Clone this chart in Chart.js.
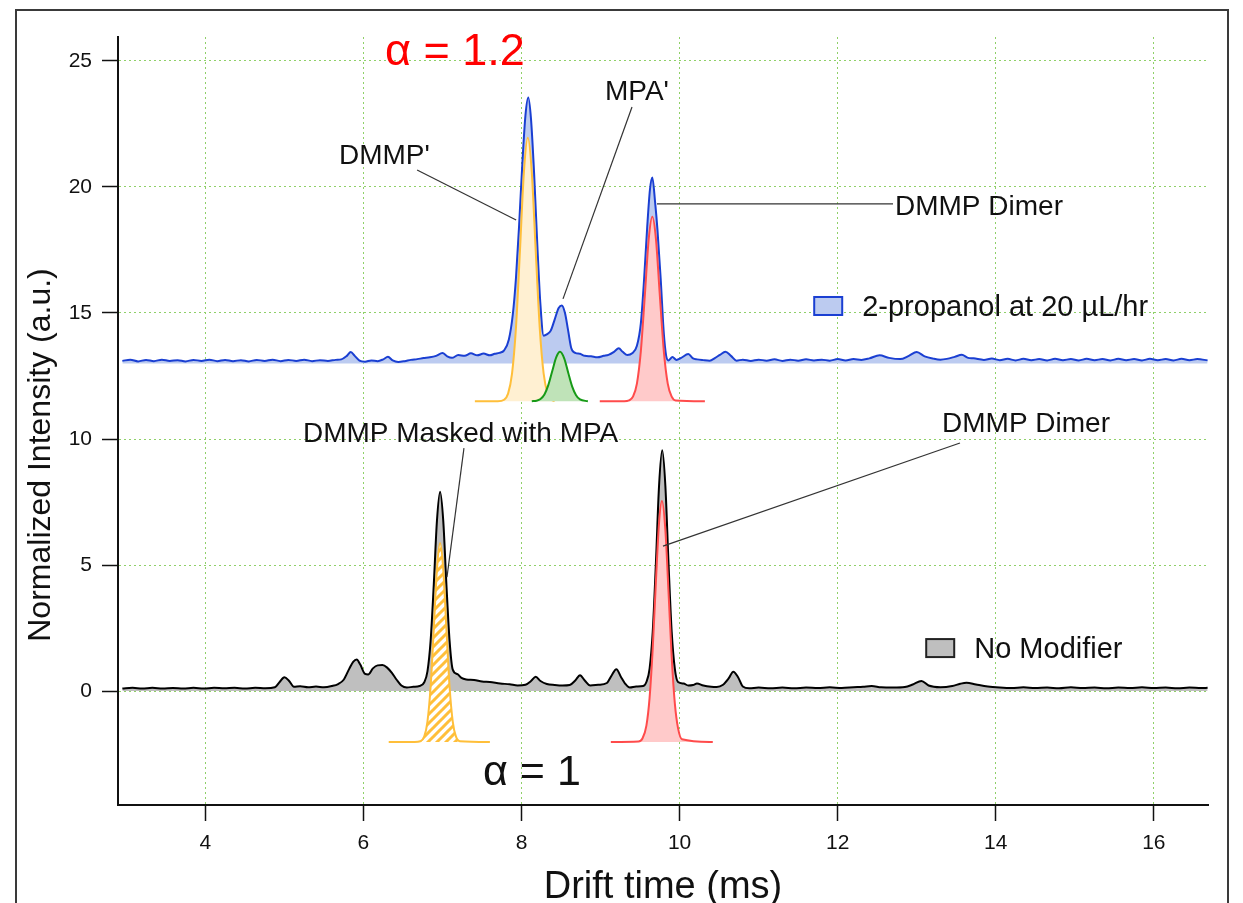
<!DOCTYPE html>
<html>
<head>
<meta charset="utf-8">
<title>Drift time spectra</title>
<script src="https://cdn.jsdelivr.net/npm/chart.js@4.4.1/dist/chart.umd.min.js"></script>
<style>
  html, body { margin: 0; padding: 0; background: #fff; }
  #wrap { width: 1243px; height: 903px; position: relative; overflow: hidden; }
</style>
</head>
<body>
<div id="wrap"><canvas id="drift" width="1243" height="903"></canvas></div>
<script>
// ---- data (drift time in ms, normalized intensity in a.u.) ----
const xTickValues = [4, 6, 8, 10, 12, 14, 16];
const yTickValues = [0, 5, 10, 15, 20, 25];

// 2-propanol at 20 µL/hr (offset trace)
const propanolTrace = [
  [2.95,13.10],[3.05,13.15],[3.15,13.08],[3.25,13.14],[3.35,13.09],[3.45,13.15],[3.55,13.10],[3.65,13.13],
  [3.75,13.08],[3.85,13.14],[3.95,13.10],[4.05,13.15],[4.15,13.09],[4.25,13.14],[4.35,13.09],[4.45,13.13],
  [4.55,13.08],[4.65,13.14],[4.75,13.10],[4.85,13.15],[4.95,13.09],[5.05,13.14],[5.15,13.10],[5.25,13.15],
  [5.35,13.09],[5.45,13.13],[5.55,13.10],[5.65,13.14],[5.72,13.16],[5.79,13.30],[5.84,13.45],[5.89,13.30],
  [5.95,13.11],[6.02,13.07],[6.10,13.12],[6.18,13.09],[6.25,13.16],[6.31,13.26],[6.37,13.12],[6.44,13.06],
  [6.52,13.09],[6.60,13.14],[6.68,13.17],[6.76,13.21],[6.84,13.24],[6.92,13.30],[7.00,13.41],[7.06,13.28],
  [7.12,13.22],[7.20,13.33],[7.28,13.30],[7.36,13.40],[7.44,13.32],[7.52,13.39],[7.60,13.32],[7.66,13.38],
  [7.72,13.42],[7.78,13.52],[7.84,13.95],[7.89,14.95],[7.93,16.40],[7.97,18.50],[8.01,20.90],[8.05,22.85],
  [8.086,23.55],[8.12,22.70],[8.16,20.50],[8.20,17.70],[8.24,15.30],[8.28,14.10],[8.32,14.15],[8.37,14.30],
  [8.42,14.75],[8.47,15.20],[8.51,15.30],[8.55,15.00],[8.59,14.30],[8.63,13.60],[8.68,13.42],[8.74,13.38],
  [8.80,13.30],[8.88,13.28],[8.96,13.24],[9.04,13.30],[9.10,13.34],[9.17,13.46],[9.23,13.60],[9.28,13.46],
  [9.34,13.33],[9.40,13.40],[9.46,13.70],[9.51,14.60],[9.55,16.30],[9.59,18.40],[9.625,19.90],[9.655,20.38],
  [9.69,19.40],[9.72,18.30],[9.76,16.40],[9.80,14.20],[9.83,13.30],[9.86,13.12],[9.91,13.25],[9.96,13.14],
  [10.02,13.22],[10.11,13.37],[10.17,13.20],[10.22,13.16],[10.30,13.13],[10.38,13.11],[10.45,13.22],[10.51,13.34],
  [10.58,13.46],[10.65,13.30],[10.72,13.11],[10.80,13.15],[10.90,13.10],[11.00,13.15],[11.10,13.11],[11.20,13.16],
  [11.30,13.10],[11.40,13.15],[11.50,13.11],[11.60,13.16],[11.70,13.12],[11.80,13.15],[11.90,13.11],[12.00,13.17],
  [12.10,13.12],[12.20,13.17],[12.30,13.14],[12.40,13.20],[12.53,13.32],[12.65,13.22],[12.79,13.17],[12.90,13.30],
  [13.00,13.45],[13.10,13.28],[13.21,13.19],[13.30,13.15],[13.38,13.18],[13.48,13.26],[13.57,13.34],[13.65,13.22],
  [13.72,13.20],[13.85,13.14],[13.95,13.19],[14.05,13.13],[14.15,13.18],[14.25,13.12],[14.35,13.18],[14.45,13.13],
  [14.55,13.17],[14.65,13.12],[14.75,13.18],[14.85,13.13],[14.95,13.17],[15.05,13.12],[15.15,13.18],[15.25,13.13],
  [15.35,13.17],[15.45,13.12],[15.55,13.18],[15.65,13.13],[15.75,13.17],[15.85,13.12],[15.95,13.18],[16.05,13.13],
  [16.15,13.17],[16.25,13.12],[16.35,13.18],[16.45,13.13],[16.55,13.17],[16.68,13.12]
];
const propanolFloor = 13.0;

// No Modifier
const noModifierTrace = [
  [2.95,0.10],[3.08,0.13],[3.20,0.10],[3.33,0.13],[3.46,0.10],[3.59,0.12],[3.72,0.10],[3.85,0.13],
  [3.98,0.10],[4.11,0.13],[4.24,0.11],[4.37,0.13],[4.50,0.10],[4.63,0.13],[4.76,0.11],[4.88,0.15],
  [4.94,0.36],[5.00,0.55],[5.06,0.40],[5.12,0.17],[5.20,0.19],[5.30,0.15],[5.40,0.18],[5.50,0.15],
  [5.60,0.20],[5.68,0.28],[5.75,0.45],[5.82,0.88],[5.87,1.16],[5.915,1.25],[5.96,1.05],[6.02,0.68],
  [6.06,0.66],[6.12,0.90],[6.18,1.02],[6.24,1.03],[6.30,0.93],[6.36,0.72],[6.42,0.45],[6.48,0.22],
  [6.55,0.14],[6.63,0.17],[6.71,0.20],[6.77,0.35],[6.81,0.78],[6.85,1.99],[6.89,4.22],[6.93,6.75],
  [6.97,7.91],[7.01,6.75],[7.05,4.22],[7.09,1.99],[7.13,0.85],[7.19,0.67],[7.24,0.52],[7.30,0.46],
  [7.40,0.44],[7.50,0.38],[7.60,0.36],[7.73,0.30],[7.85,0.27],[7.95,0.22],[8.05,0.25],[8.12,0.40],
  [8.18,0.57],[8.24,0.40],[8.32,0.28],[8.42,0.24],[8.52,0.22],[8.61,0.24],[8.68,0.42],[8.74,0.63],
  [8.80,0.42],[8.87,0.22],[8.97,0.25],[9.08,0.32],[9.14,0.62],[9.20,0.87],[9.26,0.55],[9.31,0.30],
  [9.37,0.14],[9.45,0.18],[9.54,0.20],[9.58,0.36],[9.62,0.88],[9.66,2.35],[9.70,5.06],[9.74,8.14],
  [9.78,9.55],[9.82,8.14],[9.86,5.06],[9.90,2.35],[9.94,0.88],[9.98,0.36],[10.05,0.30],[10.11,0.22],
  [10.17,0.24],[10.22,0.30],[10.30,0.22],[10.40,0.17],[10.47,0.16],[10.55,0.25],[10.62,0.50],[10.68,0.77],
  [10.74,0.55],[10.80,0.18],[10.88,0.11],[11.00,0.14],[11.15,0.11],[11.30,0.14],[11.45,0.11],[11.60,0.14],
  [11.75,0.12],[11.90,0.15],[12.05,0.12],[12.20,0.15],[12.32,0.17],[12.43,0.20],[12.55,0.15],[12.70,0.14],
  [12.85,0.16],[12.95,0.26],[13.06,0.40],[13.15,0.22],[13.30,0.15],[13.45,0.20],[13.55,0.29],[13.63,0.33],
  [13.75,0.26],[13.90,0.18],[14.05,0.14],[14.20,0.12],[14.35,0.15],[14.50,0.12],[14.65,0.14],[14.80,0.11],
  [14.95,0.15],[15.10,0.12],[15.25,0.14],[15.40,0.11],[15.55,0.14],[15.70,0.12],[15.85,0.15],[16.00,0.12],
  [16.15,0.14],[16.30,0.11],[16.45,0.14],[16.60,0.12],[16.68,0.13]
];
const noModifierFloor = 0;

// fitted peaks, alpha = 1.2 (upper)
const dmmpPrimeFit = [
  [7.41,11.5],[7.70,11.5],[7.78,11.56],[7.83,11.80],[7.88,12.59],[7.93,14.43],[7.98,17.44],[8.03,20.57],
  [8.08,21.95],[8.13,20.57],[8.18,17.44],[8.23,14.43],[8.28,12.59],[8.33,11.80],[8.38,11.56],[8.42,11.5]
];
const mpaPrimeFit = [
  [8.13,11.5],[8.19,11.52],[8.24,11.59],[8.29,11.77],[8.34,12.15],[8.39,12.71],[8.44,13.25],[8.487,13.46],
  [8.54,13.20],[8.59,12.64],[8.64,12.09],[8.69,11.74],[8.74,11.57],[8.84,11.5]
];
const dimerUpperFit = [
  [8.99,11.5],[9.30,11.5],[9.36,11.53],[9.41,11.68],[9.46,12.20],[9.51,13.50],[9.56,15.69],[9.61,17.96],
  [9.655,18.82],[9.70,17.96],[9.75,15.69],[9.80,13.50],[9.85,12.20],[9.90,11.68],[9.95,11.53],[10.32,11.5]
];

// fitted peaks, alpha = 1 (lower)
const dmmpMaskedFit = [
  [6.32,-2.02],[6.65,-2.02],[6.72,-1.99],[6.77,-1.80],[6.81,-1.21],[6.85,0.17],[6.89,2.45],[6.93,4.82],
  [6.97,5.87],[7.01,4.82],[7.05,2.45],[7.09,0.17],[7.13,-1.21],[7.17,-1.80],[7.22,-1.99],[7.60,-2.02]
];
const dimerLowerFit = [
  [9.13,-2.02],[9.48,-2.00],[9.53,-1.88],[9.58,-1.37],[9.62,-0.28],[9.66,1.69],[9.70,4.33],[9.74,6.68],
  [9.777,7.54],[9.82,6.39],[9.86,3.92],[9.90,1.34],[9.94,-0.50],[9.98,-1.47],[10.03,-1.91],[10.42,-2.02]
];

// ---- look ----
const FONT = '"Liberation Sans", Arial, Helvetica, sans-serif';
const INK = '#111';
const BLUE = '#1a3fd2';
const BLUE_FILL = '#bccbf0';
const GRAY_FILL = '#bfbfbf';
const YELLOW = '#ffbf3a';
const YELLOW_FILL = '#fff0d2';
const GREEN = '#179a17';
const GREEN_FILL = '#bfe3b8';
const RED = '#ff4b4b';
const RED_FILL = '#ffcaca';
const GRID = '#8fd068';

const toXY = (pairs) => pairs.map(([x, y]) => ({ x, y }));

function hatchPattern() {
  const s = 9;
  const c = document.createElement('canvas');
  c.width = s; c.height = s;
  const g = c.getContext('2d');
  g.fillStyle = '#fff';
  g.fillRect(0, 0, s, s);
  g.strokeStyle = YELLOW;
  g.lineWidth = 3;
  g.beginPath();
  g.moveTo(-1, s + 1); g.lineTo(s + 1, -1);
  g.moveTo(-1, 1); g.lineTo(1, -1);
  g.moveTo(s - 1, s + 1); g.lineTo(s + 1, s - 1);
  g.stroke();
  return g.createPattern(c, 'repeat');
}

function trace(pairs, color, fill, floor, order) {
  return {
    data: toXY(pairs), borderColor: color, backgroundColor: fill, borderWidth: 2,
    fill: { value: floor }, order
  };
}

const datasets = [
  trace(propanolTrace, BLUE, BLUE_FILL, propanolFloor, 3),
  trace(noModifierTrace, '#000', GRAY_FILL, noModifierFloor, 3),
  trace(dmmpPrimeFit, YELLOW, YELLOW_FILL, dmmpPrimeFit[0][1], 2),
  trace(mpaPrimeFit, GREEN, GREEN_FILL, mpaPrimeFit[0][1], 1),
  trace(dimerUpperFit, RED, RED_FILL, dimerUpperFit[0][1], 2),
  trace(dmmpMaskedFit, YELLOW, hatchPattern(), dmmpMaskedFit[0][1], 2),
  trace(dimerLowerFit, RED, RED_FILL, dimerLowerFit[0][1], 2)
];

// annotation anchors in data units (ms, a.u.)
const labels = [
  { text: "DMMP'", x: 5.69, y: 20.91 },
  { text: "MPA'", x: 9.056, y: 23.45 },
  { text: 'DMMP Dimer', x: 12.725, y: 18.89 },
  { text: 'DMMP Masked with MPA', x: 5.235, y: 9.88 },
  { text: 'DMMP Dimer', x: 13.32, y: 10.28 }
];
const leaders = [
  [6.679, 20.67, 7.932, 18.69],
  [9.398, 23.17, 8.525, 15.56],
  [9.714, 19.33, 12.70, 19.33],
  [7.272, 9.64, 7.057, 4.52],
  [13.547, 9.84, 9.79, 5.75]
];
const alphaNotes = [
  { text: 'α = 1.2', x: 6.273, y: 24.84, color: '#ff0000', size: 45 },
  { text: 'α = 1', x: 7.513, y: -3.73, color: INK, size: 43 }
];
const legendItems = [
  { text: '2-propanol at 20 µL/hr', x: 11.703, y: 15.635, fill: BLUE_FILL, stroke: BLUE },
  { text: 'No Modifier', x: 13.12, y: 2.063, fill: GRAY_FILL, stroke: '#222' }
];

const decor = {
  id: 'decor',
  beforeDraw(chart) {
    const ctx = chart.ctx;
    ctx.save();
    ctx.strokeStyle = '#3a3a3a';
    ctx.lineWidth = 2;
    ctx.strokeRect(16, 10, 1212, 1000);
    ctx.restore();
  },
  afterDatasetsDraw(chart) {
    const ctx = chart.ctx;
    const sx = chart.scales.x, sy = chart.scales.y;
    const X = (v) => sx.getPixelForValue(v);
    const Y = (v) => sy.getPixelForValue(v);
    ctx.save();

    ctx.strokeStyle = '#333';
    ctx.lineWidth = 1.2;
    leaders.forEach(([x1, y1, x2, y2]) => {
      ctx.beginPath();
      ctx.moveTo(X(x1), Y(y1));
      ctx.lineTo(X(x2), Y(y2));
      ctx.stroke();
    });

    ctx.fillStyle = INK;
    ctx.textAlign = 'left';
    ctx.textBaseline = 'alphabetic';
    ctx.font = `28px ${FONT}`;
    labels.forEach((l) => ctx.fillText(l.text, X(l.x), Y(l.y)));

    alphaNotes.forEach((a) => {
      ctx.fillStyle = a.color;
      ctx.font = `${a.size}px ${FONT}`;
      ctx.fillText(a.text, X(a.x), Y(a.y));
    });

    ctx.font = `29px ${FONT}`;
    legendItems.forEach((it) => {
      const bx = X(it.x), by = Y(it.y);
      ctx.fillStyle = it.fill;
      ctx.fillRect(bx, by, 28, 18);
      ctx.strokeStyle = it.stroke;
      ctx.lineWidth = 2;
      ctx.strokeRect(bx, by, 28, 18);
      ctx.fillStyle = INK;
      ctx.fillText(it.text, bx + 48, by + 19);
    });

    // axis titles
    ctx.fillStyle = INK;
    ctx.font = `38px ${FONT}`;
    ctx.textAlign = 'center';
    ctx.fillText('Drift time (ms)', (chart.chartArea.left + chart.chartArea.right) / 2, 898);
    ctx.translate(41, 455);
    ctx.rotate(-Math.PI / 2);
    ctx.font = `32px ${FONT}`;
    ctx.textBaseline = 'middle';
    ctx.fillText('Normalized Intensity (a.u.)', 0, 0);
    ctx.restore();
  }
};

const axisCommon = {
  type: 'linear',
  grid: {
    color: GRID, lineWidth: 1,
    tickColor: INK, tickLength: 16, tickWidth: 1.5, drawTicks: true
  },
  border: { color: INK, width: 2, dash: [2, 3] },
  ticks: { font: { family: FONT, size: 21 }, color: INK, padding: 10 }
};

new Chart(document.getElementById('drift'), {
  type: 'line',
  data: { datasets },
  options: {
    responsive: false,
    animation: false,
    events: [],
    layout: { padding: { left: 0, top: 37, right: 35, bottom: 0 } },
    elements: {
      point: { radius: 0 },
      line: { cubicInterpolationMode: 'monotone', borderJoinStyle: 'round' }
    },
    plugins: { legend: { display: false }, tooltip: { enabled: false } },
    scales: {
      x: {
        ...axisCommon,
        min: 2.895, max: 16.685,
        afterBuildTicks: (s) => { s.ticks = xTickValues.map((v) => ({ value: v })); },
        afterFit: (s) => { s.height = 98; }
      },
      y: {
        ...axisCommon,
        min: -4.52, max: 25.95,
        afterBuildTicks: (s) => { s.ticks = yTickValues.map((v) => ({ value: v })); },
        afterFit: (s) => { s.width = 118; }
      }
    }
  },
  plugins: [decor]
});
</script>
</body>
</html>
